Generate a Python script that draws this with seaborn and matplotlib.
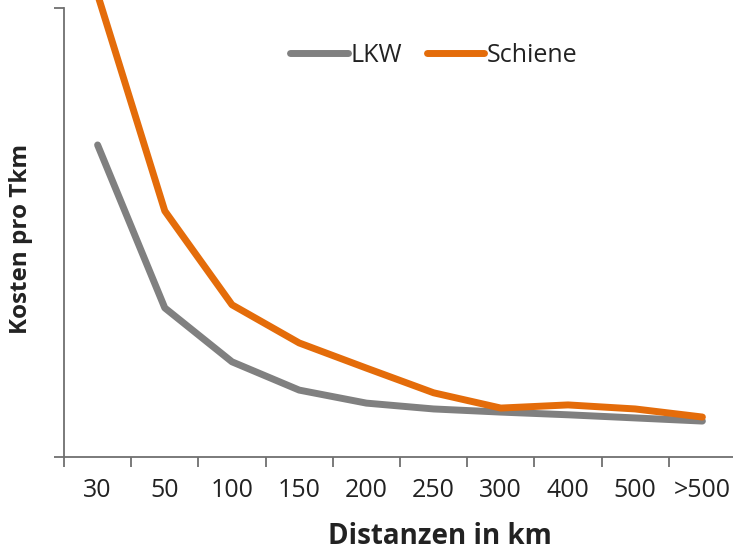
import matplotlib
matplotlib.use("Agg")
import matplotlib.pyplot as plt
import seaborn as sns
import pandas as pd

# Cost per tonne-km by transport distance (relative units)
distanzen = ["30", "50", "100", "150", "200", "250", "300", "400", "500", ">500"]
lkw = [69.5, 33.2, 21.2, 14.9, 12.0, 10.7, 10.0, 9.4, 8.7, 8.0]
schiene = [103.0, 54.8, 33.9, 25.4, 19.8, 14.3, 10.9, 11.6, 10.7, 8.9]
serien = ["LKW", "Schiene"]
farben = ["#808080", "#E46C0A"]

df = pd.DataFrame({
    "pos": list(range(len(distanzen))) * 2,
    "kosten": lkw + schiene,
    "modus": [serien[0]] * len(lkw) + [serien[1]] * len(schiene),
})

sns.set_style("white")
plt.rcParams["font.family"] = ["Open Sans", "DejaVu Sans"]

fig = plt.figure(figsize=(7.33, 5.55), dpi=100)
ax = fig.add_axes([64 / 733, 1 - 457 / 555, 672 / 733, 449 / 555])

sns.lineplot(data=df, x="pos", y="kosten", hue="modus", palette=farben,
             linewidth=5, ax=ax, legend=True)
for ln in ax.lines:
    ln.set_solid_capstyle("round")
    ln.set_solid_joinstyle("round")
    ln.set_clip_on(False)

ax.set_xlim(-0.5, len(distanzen) - 0.5)
ax.set_ylim(0, 100)

# category labels centred, tick marks between categories
ax.set_xticks(range(len(distanzen)))
ax.set_xticklabels(distanzen, fontsize=18, color="#222222")
ax.tick_params(axis="x", which="major", length=0, pad=15)
ax.set_xticks([i - 0.5 for i in range(len(distanzen) + 1)], minor=True)
ax.tick_params(axis="x", which="minor", length=7, width=1.3, color="#6f6f6f",
               direction="out", bottom=True)

ax.set_yticks([0, 100])
ax.set_yticklabels([])
ax.tick_params(axis="y", which="major", length=7, width=1.3, color="#6f6f6f",
               direction="out", left=True)

for side in ["top", "right"]:
    ax.spines[side].set_visible(False)
for side in ["left", "bottom"]:
    ax.spines[side].set_color("#6f6f6f")
    ax.spines[side].set_linewidth(1.3)

ax.set_xlabel("Distanzen in km", fontsize=20, fontweight="bold", color="#222222")
ax.xaxis.set_label_coords((440 - 64) / 672, -(537 - 457) / 449)
ax.xaxis.label.set_va("center")
ax.set_ylabel("Kosten pro Tkm", fontsize=17.5, fontweight="bold", color="#222222")
ax.yaxis.set_label_coords(-(64 - 21) / 672, (457 - 239) / 449)
ax.yaxis.label.set_va("center")

handles, labels = ax.get_legend_handles_labels()
ax.legend(handles, labels, ncol=2, frameon=False, fontsize=18,
          loc="center", bbox_to_anchor=((434 - 64) / 672, (457 - 55) / 449),
          handlelength=2.3, handletextpad=0.1, columnspacing=1.0,
          labelcolor="#222222")

fig.savefig("out.png", dpi=100)
